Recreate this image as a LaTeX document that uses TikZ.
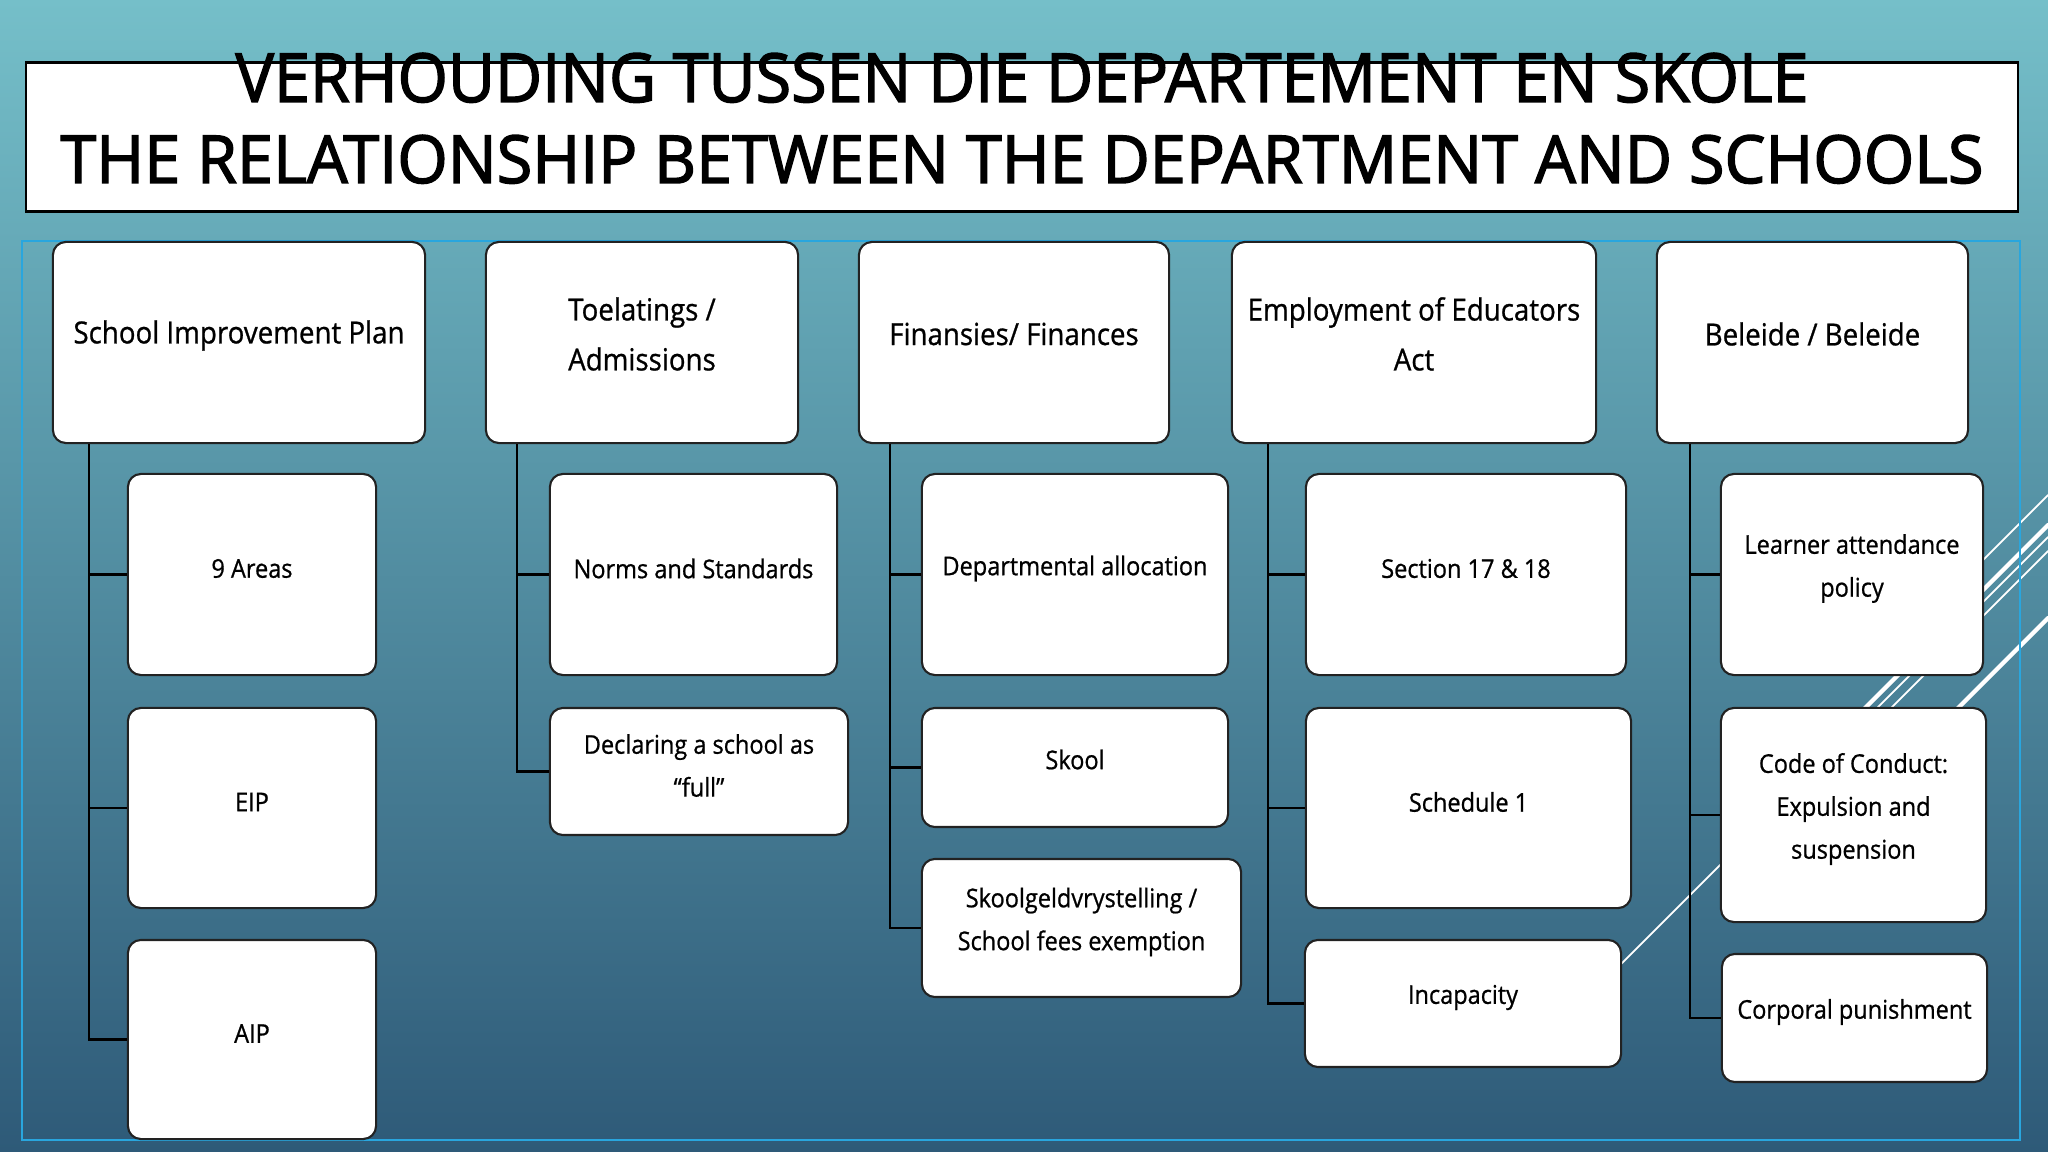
\documentclass[tikz,border=0pt]{standalone}
\usepackage{fontspec}
\usepackage{graphicx}
\setmainfont{Open Sans}[FakeStretch=0.91, FakeBold=0.8]
\newfontfamily\ttlfont{Open Sans}[FakeBold=2.2]

\definecolor{bgtop}{RGB}{117,191,201}
\definecolor{bgmid}{RGB}{80,142,163}
\definecolor{bgbot}{RGB}{46,90,120}
\definecolor{framec}{RGB}{41,166,222}
\definecolor{edgec}{RGB}{34,34,34}

\begin{document}
\begin{tikzpicture}[x=0.01cm, y=-0.01cm,         % Slide
    box/.style={draw=edgec, fill=white, line width=0.6pt, rounded corners=0.13cm, inner sep=0pt},
    hdrtxt/.style={font=\fontsize{8.65pt}{14.2pt}\selectfont, align=center, inner sep=0pt},
    subtxt/.style={font=\fontsize{7.35pt}{12.2pt}\selectfont, align=center, inner sep=0pt},
    link/.style={draw=black, line width=0.75pt},
    deco/.style={draw=white, line cap=round}]
    % 背景
    \useasboundingbox (0,0) rectangle (2048,1152);
    \shade[top color=bgtop, middle color=bgmid, bottom color=bgbot] (0,0) rectangle (2048,1152);
    \draw[deco, line width=0.5pt] (1900,643) -- (2048,495);
    \draw[deco, line width=1.2pt] (1800,773) -- (2048,525);
    \draw[deco, line width=0.5pt] (1600,985) -- (2048,537);
    \draw[deco, line width=0.5pt] (1800,799) -- (2048,551);
    \draw[deco, line width=1.2pt] (1900,766) -- (2048,618);
    \draw[framec, line width=0.5pt] (22,241) rectangle (2020,1140);

    % 標題
    \node[draw=black, fill=white, line width=0.6pt, minimum width=19.9cm, minimum height=1.49cm, inner sep=0pt] (ttl) at (1022,137) {};
    \node[anchor=base, inner sep=0pt, font=\ttlfont] (ttl-a) at (1022,102) {\resizebox{15.72cm}{0.49cm}{VERHOUDING TUSSEN DIE DEPARTEMENT EN SKOLE}};
    \node[anchor=base, inner sep=0pt, font=\ttlfont] (ttl-b) at (1022,183) {\resizebox{19.22cm}{0.48cm}{THE RELATIONSHIP BETWEEN THE DEPARTMENT AND SCHOOLS}};

    % 上層方框
    \node[box, minimum width=3.72cm, minimum height=2.01cm] (sip) at (239,342.5) {};
    \node[box, minimum width=3.12cm, minimum height=2.01cm] (adm) at (642,342.5) {};
    \node[box, minimum width=3.10cm, minimum height=2.01cm] (fin) at (1014,342.5) {};
    \node[box, minimum width=3.64cm, minimum height=2.01cm] (emp) at (1414,342.5) {};
    \node[box, minimum width=3.11cm, minimum height=2.01cm] (bel) at (1812.5,342.5) {};
    \node[hdrtxt] (sip-t) at ([yshift=0.07cm]sip.center) {School Improvement Plan};
    \node[hdrtxt] (adm-t) at ([yshift=0.085cm]adm.center) {Toelatings /\\Admissions};
    \node[hdrtxt] (fin-t) at ([yshift=0.085cm]fin.center) {Finansies/ Finances};
    \node[hdrtxt] (emp-t) at ([yshift=0.085cm]emp.center) {Employment of Educators\\Act};
    \node[hdrtxt] (bel-t) at ([yshift=0.085cm]bel.center) {Beleide / Beleide};

    % 下層方框
    \node[box, minimum width=2.48cm, minimum height=2.01cm] (ar9) at (252,574.5) {};
    \node[box, minimum width=2.48cm, minimum height=2.00cm] (eip) at (252,808) {};
    \node[box, minimum width=2.48cm, minimum height=1.99cm] (aip) at (252,1039.5) {};
    \node[box, minimum width=2.87cm, minimum height=2.01cm] (nrm) at (693.5,574.5) {};
    \node[box, minimum width=2.98cm, minimum height=1.27cm] (ful) at (699,771.5) {};
    \node[box, minimum width=3.06cm, minimum height=2.01cm] (dep) at (1075,574.5) {};
    \node[box, minimum width=3.06cm, minimum height=1.19cm] (skl) at (1075,767.5) {};
    \node[box, minimum width=3.19cm, minimum height=1.38cm] (vry) at (1081.5,928) {};
    \node[box, minimum width=3.20cm, minimum height=2.01cm] (s17) at (1466,574.5) {};
    \node[box, minimum width=3.25cm, minimum height=2.00cm] (sc1) at (1468.5,808) {};
    \node[box, minimum width=3.16cm, minimum height=1.27cm] (inc) at (1463,1003.5) {};
    \node[box, minimum width=2.62cm, minimum height=2.01cm] (lrn) at (1852,574.5) {};
    \node[box, minimum width=2.65cm, minimum height=2.14cm] (cod) at (1853.5,815) {};
    \node[box, minimum width=2.65cm, minimum height=1.28cm] (cor) at (1854.5,1018) {};

    \node[subtxt] (ar9-t) at ([yshift=0.06cm]ar9.center) {9 Areas};
    \node[subtxt] (eip-t) at ([yshift=0.06cm]eip.center) {EIP};
    \node[subtxt] (aip-t) at ([yshift=0.06cm]aip.center) {AIP};
    \node[subtxt] (nrm-t) at ([yshift=0.06cm]nrm.center) {Norms and Standards};
    \node[subtxt] (ful-t) at ([yshift=0.06cm]ful.center) {Declaring a school as\\“full”};
    \node[subtxt] (dep-t) at ([yshift=0.06cm]dep.center) {Departmental allocation};
    \node[subtxt] (skl-t) at ([yshift=0.08cm]skl.center) {Skool};
    \node[subtxt] (vry-t) at ([yshift=0.06cm]vry.center) {Skoolgeldvrystelling /\\School fees exemption};
    \node[subtxt] (s17-t) at ([yshift=0.06cm]s17.center) {Section 17 \& 18};
    \node[subtxt] (sc1-t) at ([yshift=0.06cm]sc1.center) {Schedule 1};
    \node[subtxt] (inc-t) at ([yshift=0.06cm]inc.center) {Incapacity};
    \node[subtxt] (lrn-t) at ([yshift=0.06cm]lrn.center) {Learner attendance\\policy};
    \node[subtxt] (cod-t) at ([yshift=0.06cm]cod.center) {Code of Conduct:\\Expulsion and\\suspension};
    \node[subtxt] (cor-t) at ([yshift=0.06cm]cor.center) {Corporal punishment};

    % 連接線
    \draw[link] (sip.south west) ++(37,0) |- (ar9.west);
    \draw[link] (sip.south west) ++(37,0) |- (eip.west);
    \draw[link] (sip.south west) ++(37,0) |- (aip.west);
    \draw[link] (adm.south west) ++(32,0) |- (nrm.west);
    \draw[link] (adm.south west) ++(32,0) |- (ful.west);
    \draw[link] (fin.south west) ++(32,0) |- (dep.west);
    \draw[link] (fin.south west) ++(32,0) |- (skl.west);
    \draw[link] (fin.south west) ++(32,0) |- (vry.west);
    \draw[link] (emp.south west) ++(37,0) |- (s17.west);
    \draw[link] (emp.south west) ++(37,0) |- (sc1.west);
    \draw[link] (emp.south west) ++(37,0) |- (inc.west);
    \draw[link] (bel.south west) ++(34,0) |- (lrn.west);
    \draw[link] (bel.south west) ++(34,0) |- (cod.west);
    \draw[link] (bel.south west) ++(34,0) |- (cor.west);
\end{tikzpicture}
\end{document}
